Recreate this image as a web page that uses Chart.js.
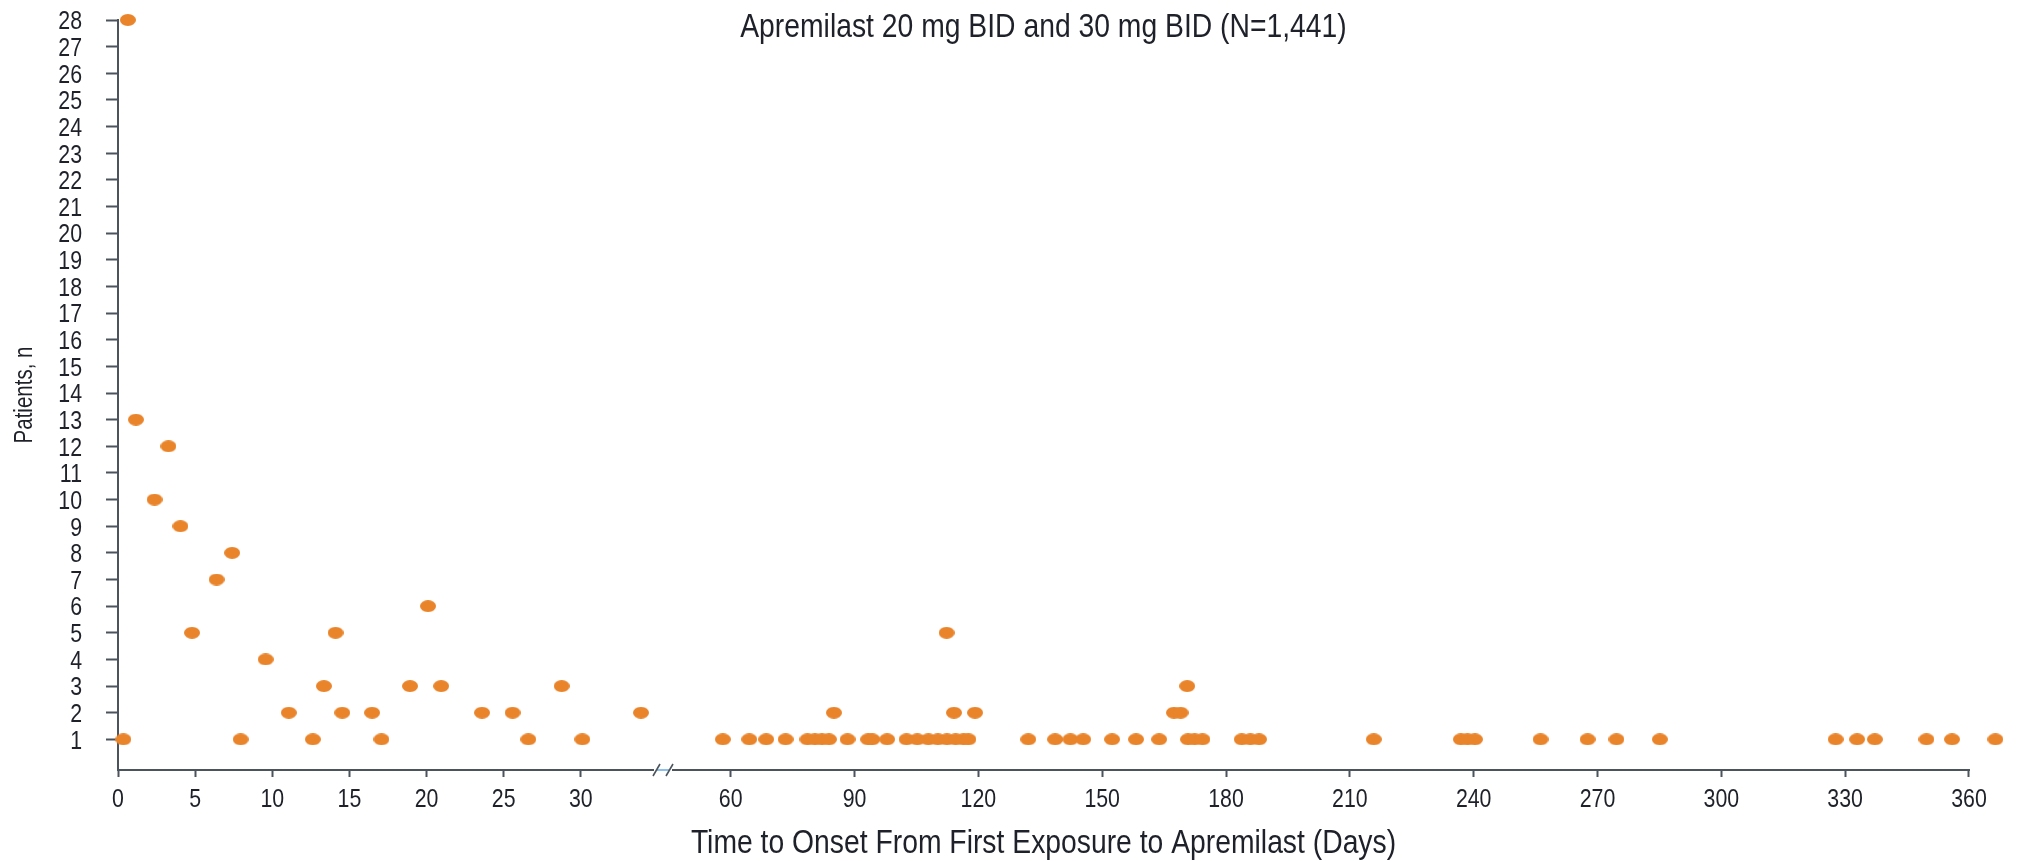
<!DOCTYPE html>
<html>
<head>
<meta charset="utf-8">
<script src="https://cdn.jsdelivr.net/npm/chart.js@4/dist/chart.umd.min.js"></script>
<style>
  html, body { margin: 0; padding: 0; background: #ffffff; }
  #wrap { width: 2018px; height: 861px; }
</style>
</head>
<body>
<div id="wrap"><canvas id="c" width="2018" height="861"></canvas></div>
<script>
// Text
const chartTitle = 'Apremilast 20 mg BID and 30 mg BID (N=1,441)';
const xAxisTitle = 'Time to Onset From First Exposure to Apremilast (Days)';
const yAxisTitle = 'Patients, n';

// First weeks of exposure: onset day and number of patients
const earlyDays   = [0.35, 0.64, 1.16, 2.37, 3.27, 4.05, 4.8, 6.39, 7.4, 7.95, 9.57, 11.07, 12.63, 13.35,
                     14.1, 14.54, 16.47, 17.08, 18.93, 20.1, 20.95, 23.6, 25.58, 26.6, 28.76, 30.1, 33.9];
const earlyCounts = [1, 28, 13, 10, 12, 9, 5, 7, 8, 1, 4, 2, 1, 3,
                     5, 2, 2, 1, 3, 6, 3, 2, 2, 1, 3, 1, 2];

// Later onsets, day 58 onward
const lateDays   = [58.1, 64.5, 68.6, 73.3, 78.6, 80.4, 82.1, 83.8, 85.0, 88.3, 93.3, 94.3, 97.9,
                    102.6, 105.2, 107.9, 110.2, 112.3, 112.4, 114.1, 114.5, 116.4, 117.6, 119.2,
                    132.1, 138.6, 142.3, 145.4, 152.4, 158.2, 163.8, 167.4, 169.0, 170.6, 170.8,
                    172.4, 174.3, 183.8, 185.9, 188.0, 215.8, 236.9, 238.5, 240.3, 256.2, 267.6,
                    274.6, 285.1, 327.7, 332.9, 337.2, 349.7, 355.9, 366.4];
const lateCounts = [1, 1, 1, 1, 1, 1, 1, 1, 2, 1, 1, 1, 1,
                    1, 1, 1, 1, 5, 1, 2, 1, 1, 1, 2,
                    1, 1, 1, 1, 1, 1, 1, 2, 2, 3, 1,
                    1, 1, 1, 1, 1, 1, 1, 1, 1, 1, 1,
                    1, 1, 1, 1, 1, 1, 1, 1];

// Tick labels
const earlyTicks = [0, 5, 10, 15, 20, 25, 30];
const lateTicks  = [60, 90, 120, 150, 180, 210, 240, 270, 300, 330, 360];
const yTicks     = [1, 2, 3, 4, 5, 6, 7, 8, 9, 10, 11, 12, 13, 14, 15, 16, 17, 18, 19, 20,
                    21, 22, 23, 24, 25, 26, 27, 28];

const FONT = "'Liberation Sans', Arial, sans-serif";
const TEXT = '#1e2129';
const AXIS = '#4b535c';
const DOT = '#e9842b';

// Oval marker
function makeDot(w, h) {
  const cv = document.createElement('canvas');
  cv.width = w; cv.height = h;
  const g = cv.getContext('2d');
  g.fillStyle = DOT;
  g.beginPath();
  g.ellipse(w / 2, h / 2, w / 2, h / 2, 0, 0, Math.PI * 2);
  g.fill();
  return cv;
}
const dot = makeDot(16, 12);

const toPoints = (xs, ys) => xs.map((x, i) => ({ x: x, y: ys[i] }));

// Condensed lettering: a sans face squeezed horizontally
function narrowText(ctx, text, x, y, size, squeeze, align, rotate) {
  ctx.save();
  ctx.translate(x, y);
  if (rotate) ctx.rotate(rotate);
  ctx.scale(squeeze, 1);
  ctx.font = size + 'px ' + FONT;
  ctx.textAlign = align;
  ctx.textBaseline = 'alphabetic';
  ctx.fillStyle = TEXT;
  ctx.fillText(text, 0, 0);
  ctx.restore();
}

// Titles, tick labels, the later axis line and the axis break
const decorations = {
  id: 'decorations',
  beforeDatasetsDraw(chart) {
    // the later range's axis line stops at its last tick
    const { x2 } = chart.scales;
    const ctx = chart.ctx;
    const by = chart.chartArea.bottom;
    ctx.save();
    ctx.strokeStyle = AXIS;
    ctx.lineWidth = 2;
    ctx.beginPath();
    ctx.moveTo(x2.left, by);
    ctx.lineTo(x2.getPixelForValue(lateTicks[lateTicks.length - 1]) + 1, by);
    ctx.stroke();
    ctx.restore();
  },
  afterDraw(chart) {
    const ctx = chart.ctx;
    const { x1, x2, y } = chart.scales;
    const top = y.top, bottom = y.bottom;
    const cx = (x1.left + x2.getPixelForValue(lateTicks[lateTicks.length - 1])) / 2;

    narrowText(ctx, chartTitle, cx, 37, 33.5, 0.845, 'center');
    narrowText(ctx, xAxisTitle, cx, 853, 33.5, 0.845, 'center');
    narrowText(ctx, yAxisTitle, 32, (top + bottom) / 2, 25, 0.82, 'center', -Math.PI / 2);

    yTicks.forEach(v => narrowText(ctx, String(v), y.right - 36, y.getPixelForValue(v) + 9.3, 26, 0.82, 'right'));
    earlyTicks.forEach(v => narrowText(ctx, String(v), x1.getPixelForValue(v), 806.5, 26, 0.82, 'center'));
    lateTicks.forEach(v => narrowText(ctx, String(v), x2.getPixelForValue(v), 806.5, 26, 0.82, 'center'));

    // break between the two day ranges
    const bx = x1.right;
    const by = bottom;
    ctx.save();
    ctx.fillStyle = '#ffffff';
    ctx.fillRect(bx - 9, by - 3, 18, 6);
    ctx.strokeStyle = '#8cc0ea';
    ctx.lineWidth = 2;
    ctx.beginPath();
    ctx.moveTo(bx - 6.5, by);
    ctx.lineTo(bx + 6.5, by);
    ctx.stroke();
    ctx.strokeStyle = AXIS;
    ctx.lineWidth = 1.6;
    [bx - 6.5, bx + 6.5].forEach(px => {
      ctx.beginPath();
      ctx.moveTo(px - 3.5, by + 6);
      ctx.lineTo(px + 3.5, by - 6);
      ctx.stroke();
    });
    ctx.restore();
  }
};

function fixedBox(prop, size) {
  return function (s) {
    s[prop] = size;
    s.paddingTop = 0; s.paddingBottom = 0; s.paddingLeft = 0; s.paddingRight = 0;
  };
}

const xCommon = {
  type: 'linear',
  position: 'bottom',
  stack: 'days',
  offset: false,
  bounds: 'data',
  grid: { drawOnChartArea: false, drawTicks: true, tickLength: 7, tickWidth: 2, tickColor: AXIS },
  border: { display: true, color: AXIS, width: 2 },
  ticks: { display: false },
  afterFit: fixedBox('height', 91)
};

new Chart(document.getElementById('c'), {
  type: 'scatter',
  data: {
    datasets: [
      { data: toPoints(earlyDays, earlyCounts), xAxisID: 'x1', yAxisID: 'y',
        pointStyle: dot, pointRadius: 8, pointBorderWidth: 0, clip: false },
      { data: toPoints(lateDays, lateCounts), xAxisID: 'x2', yAxisID: 'y',
        pointStyle: dot, pointRadius: 8, pointBorderWidth: 0, clip: false }
    ]
  },
  options: {
    responsive: false,
    animation: false,
    devicePixelRatio: 1,
    events: [],
    layout: { padding: { top: 20, right: 16, bottom: 0, left: 0 } },
    plugins: { legend: { display: false }, tooltip: { enabled: false }, title: { display: false } },
    scales: {
      x1: Object.assign({}, xCommon, {
        stackWeight: 545,
        afterDataLimits(s) { s.min = 0; s.max = 35.33; },
        afterBuildTicks(s) { s.ticks = earlyTicks.map(v => ({ value: v })); }
      }),
      x2: Object.assign({}, xCommon, {
        stackWeight: 1339,
        border: { display: false },
        afterDataLimits(s) { s.min = 43.6; s.max = 368; },
        afterBuildTicks(s) { s.ticks = lateTicks.map(v => ({ value: v })); }
      }),
      y: {
        type: 'linear',
        position: 'left',
        min: -0.15, max: 28,
        grid: { drawOnChartArea: false, drawTicks: true, tickLength: 12, tickWidth: 2, tickColor: AXIS },
        border: { display: true, color: AXIS, width: 2 },
        ticks: { display: false },
        afterBuildTicks(s) { s.ticks = yTicks.map(v => ({ value: v })); },
        afterFit: fixedBox('width', 118)
      }
    }
  },
  plugins: [decorations]
});
</script>
</body>
</html>
